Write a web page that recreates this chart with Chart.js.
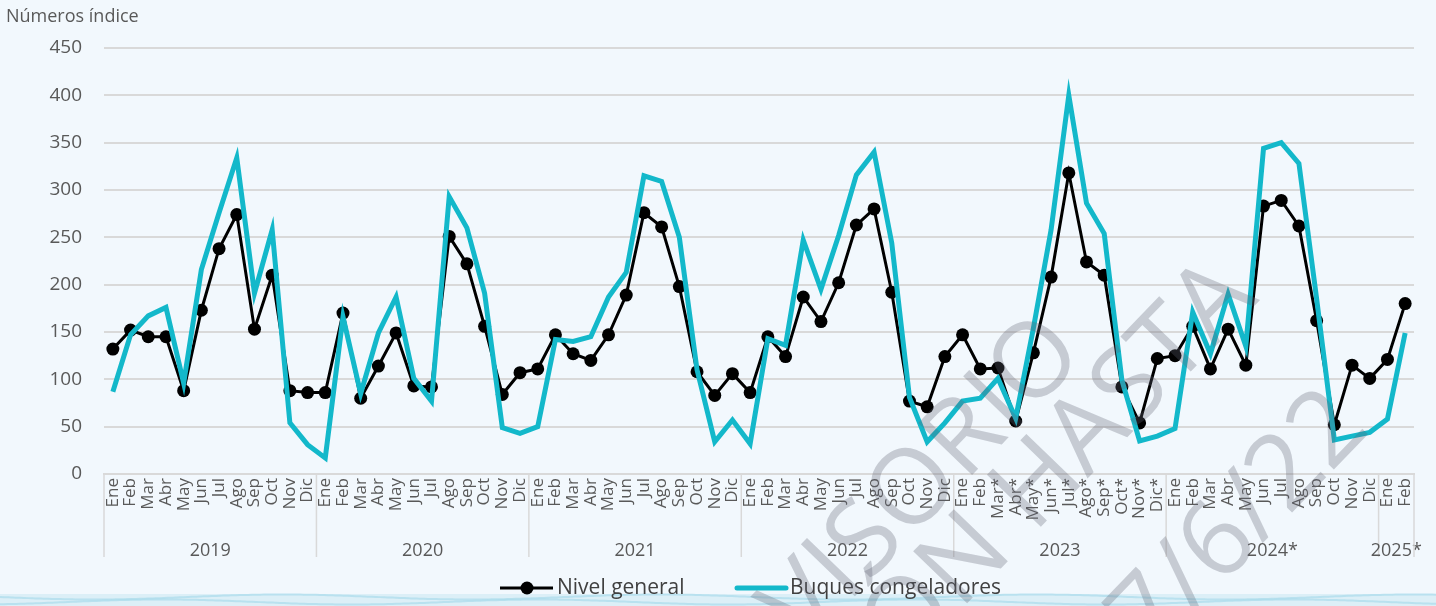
<!DOCTYPE html>
<html lang="es">
<head>
<meta charset="utf-8">
<title>Números índice</title>
<script src="https://cdn.jsdelivr.net/npm/chart.js@4.4.1/dist/chart.umd.min.js"></script>
<style>
  html, body { margin: 0; padding: 0; background: #f2f8fd; }
  #wrap { width: 1436px; height: 606px; position: relative; }
</style>
</head>
<body>
<div id="wrap"><canvas id="chart" width="1436" height="606"></canvas></div>
<script>
// categorias
const anios = ['2019', '2020', '2021', '2022', '2023', '2024*', '2025*'];
const mesesAnio = ['Ene', 'Feb', 'Mar', 'Abr', 'May', 'Jun', 'Jul', 'Ago', 'Sep', 'Oct', 'Nov', 'Dic'];
const meses2023 = ['Ene', 'Feb', 'Mar*', 'Abr*', 'May*', 'Jun*', 'Jul*', 'Ago*', 'Sep*', 'Oct*', 'Nov*', 'Dic*'];
const meses2025 = ['Ene', 'Feb'];

// series (numeros indice)
const nivelGeneral = [
  132, 152, 145, 145, 88, 173, 238, 274, 153, 210, 88, 86,    // 2019
  86, 170, 80, 114, 149, 93, 92, 251, 222, 156, 84, 107,      // 2020
  111, 147, 127, 120, 147, 189, 276, 261, 198, 108, 83, 106,  // 2021
  86, 145, 124, 187, 161, 202, 263, 280, 192, 77, 71, 124,    // 2022
  147, 111, 112, 56, 128, 208, 318, 224, 210, 92, 54, 122,    // 2023
  125, 156, 111, 153, 115, 283, 289, 262, 162, 52, 115, 101,  // 2024
  121, 180                                                    // 2025
];
const buquesCongeladores = [
  87, 147, 167, 176, 96, 216, 276, 334, 191, 258, 54, 31,
  17, 166, 85, 149, 187, 101, 77, 293, 260, 191, 49, 43,
  50, 142, 140, 145, 187, 213, 315, 309, 250, 110, 34, 57,
  32, 143, 136, 247, 195, 252, 316, 340, 244, 81, 34, 54,
  77, 80, 101, 59, 154, 258, 400, 286, 254, 99, 35, 40,
  48, 171, 127, 190, 135, 344, 350, 328, 185, 36, 40, 44,
  58, 149
];

const etiquetas = [].concat(mesesAnio, mesesAnio, mesesAnio, mesesAnio, meses2023, mesesAnio, meses2025);
const mesesPorAnio = [12, 12, 12, 12, 12, 12, 2];

const FONT = "'Open Sans', 'Noto Sans', sans-serif";
const GRIS = '#595959';
const LINEA = '#d9d9d9';
const NEGRO = '#000000';
const TURQUESA = '#13b8ca';

// fondo, titulo del eje, años, leyenda y marca de agua
const extras = {
  id: 'extras',
  beforeDraw(chart) {
    const ctx = chart.ctx;
    ctx.save();
    ctx.fillStyle = '#f2f8fd';
    ctx.fillRect(0, 0, chart.width, chart.height);
    // ondas del pie
    ctx.fillStyle = 'rgba(205,234,243,0.6)';
    ctx.fillRect(0, 594, chart.width, 12);
    ctx.strokeStyle = 'rgba(170,220,235,0.7)';
    ctx.lineWidth = 2;
    for (let k = 0; k < 2; k++) {
      ctx.beginPath();
      for (let px = 0; px <= chart.width; px += 4) {
        const py = 597 + k * 5 + Math.sin(px / 60 + k * 2) * 2.5;
        px === 0 ? ctx.moveTo(px, py) : ctx.lineTo(px, py);
      }
      ctx.stroke();
    }
    ctx.restore();
  },
  afterDraw(chart) {
    const { ctx, scales: { x }, chartArea } = chart;
    ctx.save();

    // titulo del eje y
    ctx.fillStyle = GRIS;
    ctx.font = '18px ' + FONT;
    ctx.textAlign = 'left';
    ctx.textBaseline = 'alphabetic';
    ctx.fillText('Números índice', 6, 22);

    // grupos de años
    const paso = x.getPixelForValue(1) - x.getPixelForValue(0);
    let ini = 0;
    ctx.strokeStyle = LINEA;
    ctx.lineWidth = 1.5;
    ctx.font = '18px ' + FONT;
    ctx.textAlign = 'center';
    ctx.textBaseline = 'middle';
    let x1 = chartArea.left;
    anios.forEach((a, i) => {
      const n = mesesPorAnio[i];
      const x0 = x.getPixelForValue(ini) - paso / 2;
      x1 = x.getPixelForValue(ini + n - 1) + paso / 2;
      ctx.beginPath();
      ctx.moveTo(x0, chartArea.bottom);
      ctx.lineTo(x0, 557);
      ctx.stroke();
      ctx.fillText(a, (x0 + x1) / 2, 551);
      ini += n;
    });
    ctx.beginPath();
    ctx.moveTo(x1, chartArea.bottom);
    ctx.lineTo(x1, 557);
    ctx.stroke();

    // leyenda
    const ly = 588;
    ctx.font = '21px ' + FONT;
    ctx.textAlign = 'left';
    ctx.strokeStyle = NEGRO;
    ctx.lineWidth = 3;
    ctx.beginPath(); ctx.moveTo(500, ly); ctx.lineTo(553, ly); ctx.stroke();
    ctx.fillStyle = NEGRO;
    ctx.beginPath(); ctx.arc(527, ly, 6.5, 0, Math.PI * 2); ctx.fill();
    ctx.fillStyle = '#404040';
    ctx.fillText('Nivel general', 557, ly);
    ctx.strokeStyle = TURQUESA;
    ctx.lineWidth = 5;
    ctx.lineCap = 'round';
    ctx.beginPath(); ctx.moveTo(737, ly); ctx.lineTo(786, ly); ctx.stroke();
    ctx.fillText('Buques congeladores', 790, ly);

    // marca de agua
    ctx.fillStyle = 'rgba(95,100,115,0.3)';
    ctx.font = '105px ' + FONT;
    ctx.textAlign = 'right';
    ctx.textBaseline = 'alphabetic';
    const marca = [['PROVISORIO', 1087, 356], ['REVISIÓN HASTA', 1260, 300], ['17/6/22', 1372, 430]];
    marca.forEach(([t, mx, my]) => {
      ctx.save();
      ctx.translate(mx, my);
      ctx.rotate(-46 * Math.PI / 180);
      ctx.fillText(t, 0, 0);
      ctx.restore();
    });
    ctx.restore();
  }
};

new Chart(document.getElementById('chart'), {
  type: 'line',
  data: {
    labels: etiquetas,
    datasets: [
      {
        label: 'Nivel general',
        data: nivelGeneral,
        borderColor: NEGRO,
        backgroundColor: NEGRO,
        borderWidth: 3,
        pointRadius: 6.5,
        pointBackgroundColor: NEGRO,
        pointBorderWidth: 0,
        tension: 0,
        order: 1
      },
      {
        label: 'Buques congeladores',
        data: buquesCongeladores,
        borderColor: TURQUESA,
        backgroundColor: TURQUESA,
        borderWidth: 5,
        pointRadius: 0,
        tension: 0,
        order: 0
      }
    ]
  },
  options: {
    responsive: false,
    animation: false,
    devicePixelRatio: 1,
    layout: { padding: { left: 0, right: 22, top: 48, bottom: 0 } },
    plugins: { legend: { display: false }, tooltip: { enabled: false } },
    scales: {
      x: {
        offset: true,
        grid: { display: false, drawTicks: false },
        border: { display: true, color: LINEA, width: 2 },
        ticks: {
          autoSkip: false, maxRotation: 90, minRotation: 90, padding: 4,
          color: GRIS, font: { family: FONT, size: 17 }
        },
        afterFit(s) { s.height = 132; }
      },
      y: {
        min: 0, max: 450,
        ticks: { stepSize: 50, padding: 22, color: GRIS, font: { family: FONT, size: 19 } },
        grid: { color: LINEA, lineWidth: 2, drawTicks: false },
        border: { display: false },
        afterFit(s) { s.width = 104; }
      }
    }
  },
  plugins: [extras]
});
</script>
</body>
</html>
